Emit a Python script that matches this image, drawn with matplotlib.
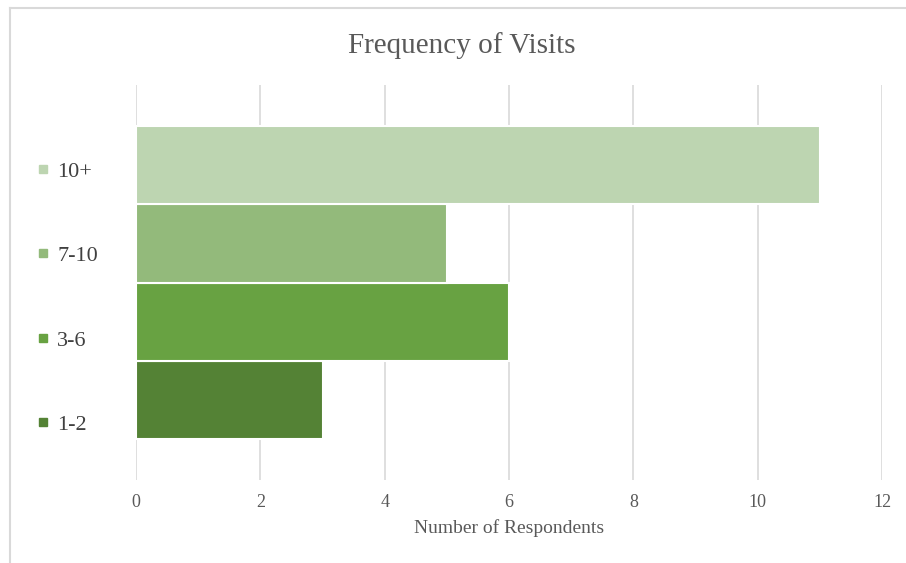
import matplotlib
matplotlib.use('Agg')
from matplotlib import pyplot as plt
from matplotlib.lines import Line2D

# survey results: how often respondents visit
categories = ['1-2', '3-6', '7-10', '10+']
respondents = [3, 6, 5, 11]
colors = ['#548235', '#68A242', '#93BA7B', '#BDD5B1']

plt.rcParams['font.family'] = ['Liberation Serif', 'DejaVu Serif']
text_color = '#595959'

fig = plt.figure(figsize=(9.06, 5.63), dpi=100)
ax = fig.add_axes([136 / 906, 1 - 480 / 563, 746 / 906, 395 / 563])

# one bar per category, stacked top to bottom like a clustered bar
n = len(categories)
for i, (cat, val, col) in enumerate(zip(categories, respondents, colors)):
    ypos = i - (n - 1) / 2
    ax.barh(ypos, val, height=1.0, color=col, edgecolor='white', linewidth=1.5, zorder=3)

ax.set_xlim(0, 12)
ax.set_ylim(-2.53, 2.53)
ax.set_xticks(range(0, 13, 2))
ax.set_yticks([])
ax.grid(axis='x', color='#D9D9D9', linewidth=1.2, zorder=0)
for s in ax.spines.values():
    s.set_visible(False)
ax.tick_params(axis='x', length=0, pad=10, labelsize=13, labelcolor=text_color)
ax.set_xlabel('Number of Respondents', fontsize=14, color=text_color, labelpad=6)

fig.text(462 / 906, 1 - 46 / 563, 'Frequency of Visits', ha='center', va='center',
         fontsize=21, color=text_color)

# legend on the left, largest bucket first
handles = [Line2D([], [], marker='s', linestyle='none', markersize=5.5,
                  markerfacecolor=c, markeredgecolor=c) for c in colors[::-1]]
leg = fig.legend(handles, categories[::-1], loc='upper left',
                 bbox_to_anchor=(16 / 906, 1 - 141 / 563), frameon=False,
                 fontsize=16, labelspacing=2.88, handlelength=0.6,
                 handletextpad=0.35, labelcolor='#404040')

# light frame around the chart area
fig.add_artist(Line2D([10 / 906, 1], [1 - 8 / 563, 1 - 8 / 563], color='#D9D9D9', linewidth=1.5))
fig.add_artist(Line2D([10 / 906, 10 / 906], [0, 1 - 8 / 563], color='#D9D9D9', linewidth=1.5))

fig.savefig('out.png', dpi=100)
plt.close(fig)
